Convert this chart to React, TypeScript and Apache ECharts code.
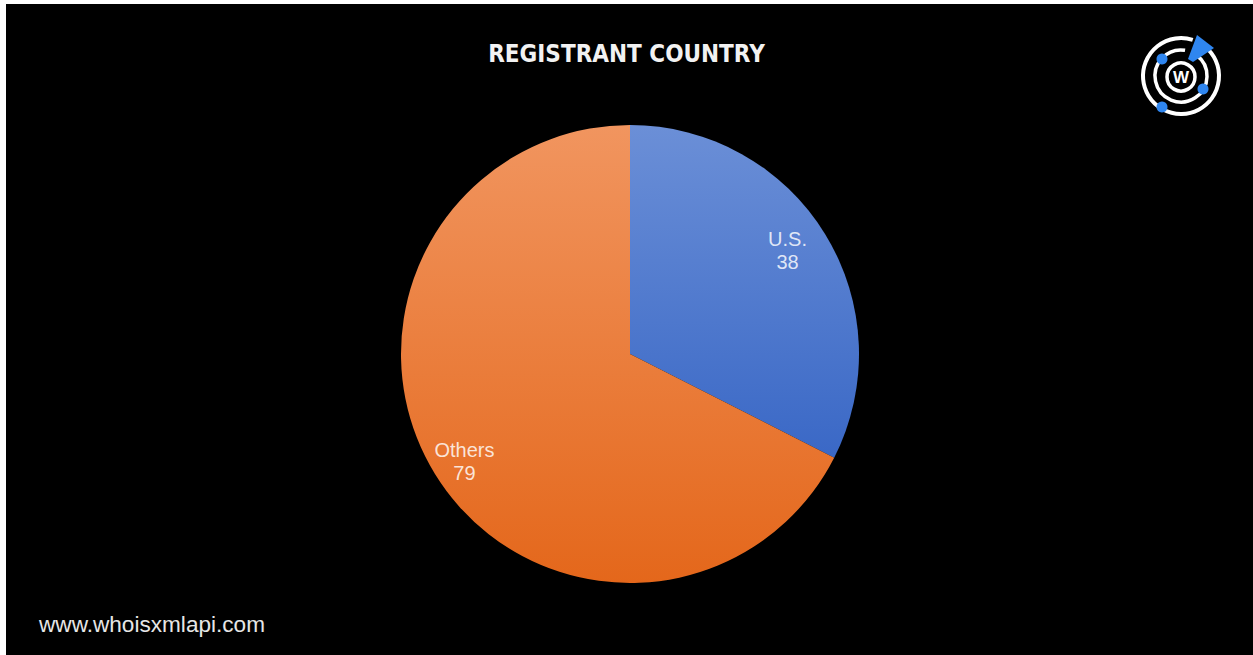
import React, { useEffect, useRef } from "react";
import * as echarts from "echarts";

const categories = ["U.S.", "Others"];
const values = [38, 79];
const titleText = "REGISTRANT COUNTRY";
const footerText = "www.whoisxmlapi.com";

const sliceColors = [
  ["#6b8fd7", "#3a68c6"],
  ["#f1955f", "#e4671b"],
];
const labelOffsets = [
  [-6, -3],
  [-2, 7],
];

export default function App() {
  const ref = useRef<HTMLDivElement>(null);
  useEffect(() => {
    document.body.style.margin = "0";
    const chart = echarts.init(ref.current!, null, { renderer: "svg" });
    const cx = 630;
    const cy = 354;
    const R = 229;
    const data = categories.map((name, i) => ({
      name,
      value: values[i],
      itemStyle: {
        color: new echarts.graphic.LinearGradient(0, 0, 0, 1, [
          { offset: 0, color: sliceColors[i][0] },
          { offset: 1, color: sliceColors[i][1] },
        ]),
      },
    }));
    const lx = 1181;
    const ly = 76;
    chart.setOption({
      animation: false,
      backgroundColor: "#ffffff",
      title: {
        text: titleText,
        left: "center",
        top: 37,
        textStyle: {
          color: "#f2f2f2",
          fontFamily: "'DejaVu Sans Condensed', Roboto, sans-serif",
          fontWeight: "bold",
          fontSize: 24,
        },
      },
      graphic: [
        {
          type: "rect",
          z: -10,
          shape: { x: 6, y: 4, width: 1253, height: 655 },
          style: { fill: "#000000" },
          silent: true,
        },
        {
          type: "text",
          left: 39,
          top: 613,
          style: {
            text: footerText,
            fill: "#e6e6e6",
            font: "22.6px 'Liberation Sans', Arial, sans-serif",
          },
        },
        // logo
        {
          type: "arc",
          shape: { cx: lx, cy: ly, r: 38, startAngle: -Math.PI * 0.28, endAngle: Math.PI * 1.6 },
          style: { stroke: "#ffffff", lineWidth: 4, fill: "none" },
        },
        {
          type: "arc",
          shape: { cx: lx, cy: ly, r: 26, startAngle: -Math.PI * 0.3, endAngle: Math.PI * 1.55 },
          style: { stroke: "#ffffff", lineWidth: 3.5, fill: "none" },
        },
        {
          type: "circle",
          shape: { cx: lx, cy: ly + 1, r: 14 },
          style: { stroke: "#ffffff", lineWidth: 3.5, fill: "none" },
        },
        {
          type: "text",
          x: lx,
          y: ly + 1,
          style: {
            text: "W",
            fill: "#ffffff",
            font: "bold 17px 'Liberation Sans', Arial, sans-serif",
            align: "center",
            verticalAlign: "middle",
          },
        },
        {
          type: "polygon",
          shape: { points: [[1197, 35], [1214, 48], [1193, 62], [1188, 59]] },
          style: { fill: "#2f86f0" },
        },
        { type: "circle", shape: { cx: 1162, cy: 59, r: 5.5 }, style: { fill: "#2f86f0" } },
        { type: "circle", shape: { cx: 1203, cy: 89, r: 5.5 }, style: { fill: "#2f86f0" } },
        { type: "circle", shape: { cx: 1162, cy: 107, r: 5.5 }, style: { fill: "#2f86f0" } },
      ],
      series: [
        {
          type: "pie",
          center: [cx, cy],
          radius: [0, R],
          startAngle: 90,
          clockwise: true,
          label: { show: false },
          labelLine: { show: false },
          data,
        },
        {
          type: "pie",
          center: [cx, cy],
          radius: [R * 0.65, R],
          startAngle: 90,
          clockwise: true,
          silent: true,
          itemStyle: { color: "rgba(0,0,0,0)" },
          label: {
            show: true,
            position: "inside",
            formatter: "{b}\n{c}",
            color: "rgba(255,255,255,0.82)",
            fontFamily: "Liberation Sans",
            fontSize: 20,
            lineHeight: 23,
          },
          labelLine: { show: false },
          data: categories.map((name, i) => ({
            name,
            value: values[i],
            label: { offset: labelOffsets[i] },
          })),
        },
      ],
    });
    return () => chart.dispose();
  }, []);
  return <div ref={ref} style={{ width: 1253, height: 655 }} />;
}
